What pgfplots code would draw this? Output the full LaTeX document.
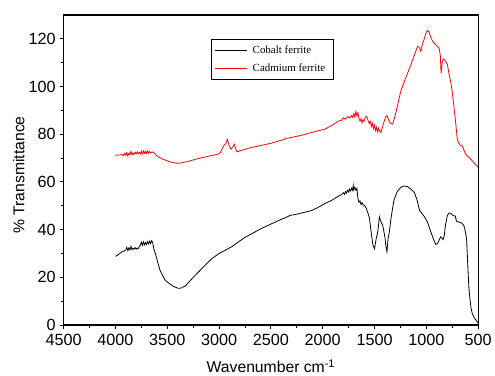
\documentclass[border=0pt]{standalone}
\usepackage{pgfplots}
\pgfplotsset{compat=1.18}
\usepackage{fontspec}
\setmainfont{Liberation Sans}
\newfontfamily\serif{Liberation Serif}
\begin{document}
\begin{tikzpicture}
\begin{axis}[
  scale only axis, width=417pt, height=312pt,
  x dir=reverse, xmin=500, xmax=4500, ymin=0, ymax=130,
  xtick={500,1000,...,4500}, ytick={0,20,...,120},
  minor x tick num=1, minor y tick num=1,
  xtick pos=bottom, ytick pos=left, tick align=outside,
  major tick length=4pt, minor tick length=3pt,
  axis line style={line width=1.2pt}, every tick/.style={line width=0.9pt,black},
  /pgf/number format/assume math mode=true,
  /pgf/number format/1000 sep={},
  scaled ticks=false,
  tick label style={font=\fontsize{16.3}{18}\selectfont},
  xticklabel style={yshift=-1.5pt},
  yticklabel style={xshift=-0.5pt},
  label style={font=\fontsize{15.8}{17}\selectfont},
  xlabel={Wavenumber cm\textsuperscript{-1}},
  ylabel={\% Transmittance},
  xlabel style={at={(axis description cs:0.5,-0.152)}, anchor=base},
  ylabel style={at={(axis description cs:-0.108,0.484)}, anchor=center, rotate=0},
  legend style={at={(0.355,0.923)}, anchor=north west, draw=black, line width=0.8pt,
    font=\serif\fontsize{11}{13}\selectfont, row sep=5pt, inner xsep=3pt, inner ysep=4.5pt,
    nodes={inner xsep=5pt}},
  legend cell align=left,
  legend image code/.code={\draw[#1, line width=0.8pt] (0pt,0pt) -- (33pt,0pt);},
]
\addplot[black, line width=0.8pt] coordinates {
(4000,28.8)(3980,29.3)(3960,30)(3940,30.6)(3920,31)(3900,31.5)(3890,32.6)(3880,31.2)(3870,32.4)(3860,31.5)(3850,33)(3840,31.6)(3830,32.2)(3820,31.8)(3810,32.5)(3800,31.8)(3790,32.3)(3780,32)(3770,32.8)(3760,33.5)(3750,34.8)(3740,33.4)(3730,34.9)(3720,33.6)(3710,34.6)(3700,33.8)(3690,35)(3680,34)(3670,35.2)(3660,34.2)(3650,35.4)(3640,34.5)(3630,32)(3610,29.3)(3590,26)(3570,23)(3547,21)(3520,18.8)(3483,17.5)(3440,16.2)(3400,15.5)(3387,15.4)(3360,15.6)(3323,16.5)(3260,19.5)(3195,22.4)(3130,25.3)(3068,27.9)(3000,30)(2940,31.4)(2880,32.8)(2812,34.9)(2750,36.8)(2684,38.3)(2600,40.3)(2492,42.5)(2400,44.3)(2330,45.6)(2316,46)(2280,46.2)(2200,47)(2108,48)(2050,49.2)(1980,50.9)(1917,52.2)(1850,54)(1820,54.6)(1800,55.5)(1790,54.8)(1780,56)(1770,55.3)(1760,56.5)(1750,55.8)(1740,57)(1730,56.2)(1720,57.5)(1710,56.5)(1705,58.5)(1700,56.8)(1690,57.8)(1680,56.5)(1670,57.3)(1660,53)(1650,51.5)(1640,52)(1630,50.5)(1620,51.3)(1610,50.5)(1596,50.1)(1580,49)(1560,46.5)(1548,44.6)(1530,38)(1515,33.5)(1500,32)(1485,36)(1469,39)(1453,45.3)(1440,43.5)(1421,41.8)(1400,37)(1390,33)(1380,30.7)(1370,36)(1357,39)(1340,45)(1320,50.5)(1309,52.9)(1280,56)(1245,57.8)(1210,58.3)(1180,58)(1150,57)(1117,55.7)(1090,52.5)(1065,48)(1053,47.4)(1020,45.5)(989,43.2)(960,39.5)(930,35.8)(909,33.8)(890,34.3)(870,36.3)(860,37)(850,36.5)(840,35.8)(829,37)(815,42)(797,46)(780,47)(766,46.9)(750,46.2)(735,45.8)(720,45.7)(710,43.5)(686,43.2)(660,42.8)(638,41.8)(625,39.5)(612,36.3)(600,25)(590,16)(580,11.3)(570,7.5)(558,5)(540,3.2)(520,2)(500,0.8)
};
\addlegendentry{Cobalt ferrite}
\addplot[red, line width=0.8pt] coordinates {
(4000,71.2)(3960,71.3)(3940,71.5)(3920,71)(3910,72)(3900,71.2)(3890,72.3)(3880,70.8)(3870,72)(3860,71.4)(3850,72.8)(3840,71.3)(3830,72.2)(3820,71.6)(3810,72.5)(3800,71.8)(3790,72.6)(3780,71.9)(3770,72.4)(3760,71.7)(3750,72.9)(3740,71.8)(3730,73)(3720,72)(3710,72.8)(3700,71.9)(3690,73)(3680,72)(3670,72.8)(3660,72.2)(3640,72.6)(3620,71.8)(3600,71)(3580,70.3)(3540,69.5)(3480,68.5)(3420,67.9)(3387,67.8)(3300,68.6)(3200,69.8)(3100,70.8)(3004,71.7)(2985,72.5)(2965,74.4)(2950,75.5)(2935,76)(2920,77.8)(2905,75.5)(2886,73.75)(2870,74.5)(2853,75.8)(2840,74)(2828,72.6)(2700,74.3)(2500,76.2)(2364,77.9)(2360,78.4)(2340,78.3)(2200,79.6)(2100,80.8)(1980,82.1)(1900,84)(1850,85.5)(1820,85.8)(1800,86.8)(1780,86.3)(1760,87.4)(1740,86.8)(1720,87.8)(1710,87)(1700,88.6)(1690,87.3)(1680,89.5)(1670,87.8)(1660,89)(1650,86.5)(1640,85.5)(1630,86.5)(1620,84.8)(1610,86)(1600,85.5)(1590,87)(1580,87.5)(1570,86.8)(1560,85.5)(1550,84.5)(1540,85.3)(1530,83.2)(1520,84.6)(1510,82.3)(1500,83.8)(1490,81.5)(1480,83)(1470,81)(1460,82.5)(1450,81.2)(1440,80.8)(1430,82)(1410,85)(1395,87)(1380,87.8)(1365,86)(1345,84.5)(1325,84.2)(1300,88)(1270,93.5)(1250,97.5)(1229,100.1)(1200,103.5)(1150,109)(1100,115)(1085,116.8)(1070,116.5)(1053,114.7)(1040,117.5)(1020,120)(1000,122.8)(989,123.5)(975,123)(960,121)(940,119)(925,118.2)(900,117)(877,116.1)(865,113)(858,105.5)(852,108)(845,110.5)(836,111.5)(820,111)(797,109.2)(780,105)(765,102)(749,97.4)(730,90)(715,84)(702,77.9)(690,76.5)(670,75.3)(654,75.1)(630,72.5)(610,71)(589,70.3)(560,69)(530,67.5)(500,66.1)
};
\addlegendentry{Cadmium ferrite}
\end{axis}
\useasboundingbox (-64pt,-49pt) rectangle (431pt,327pt);
\end{tikzpicture}
\end{document}
